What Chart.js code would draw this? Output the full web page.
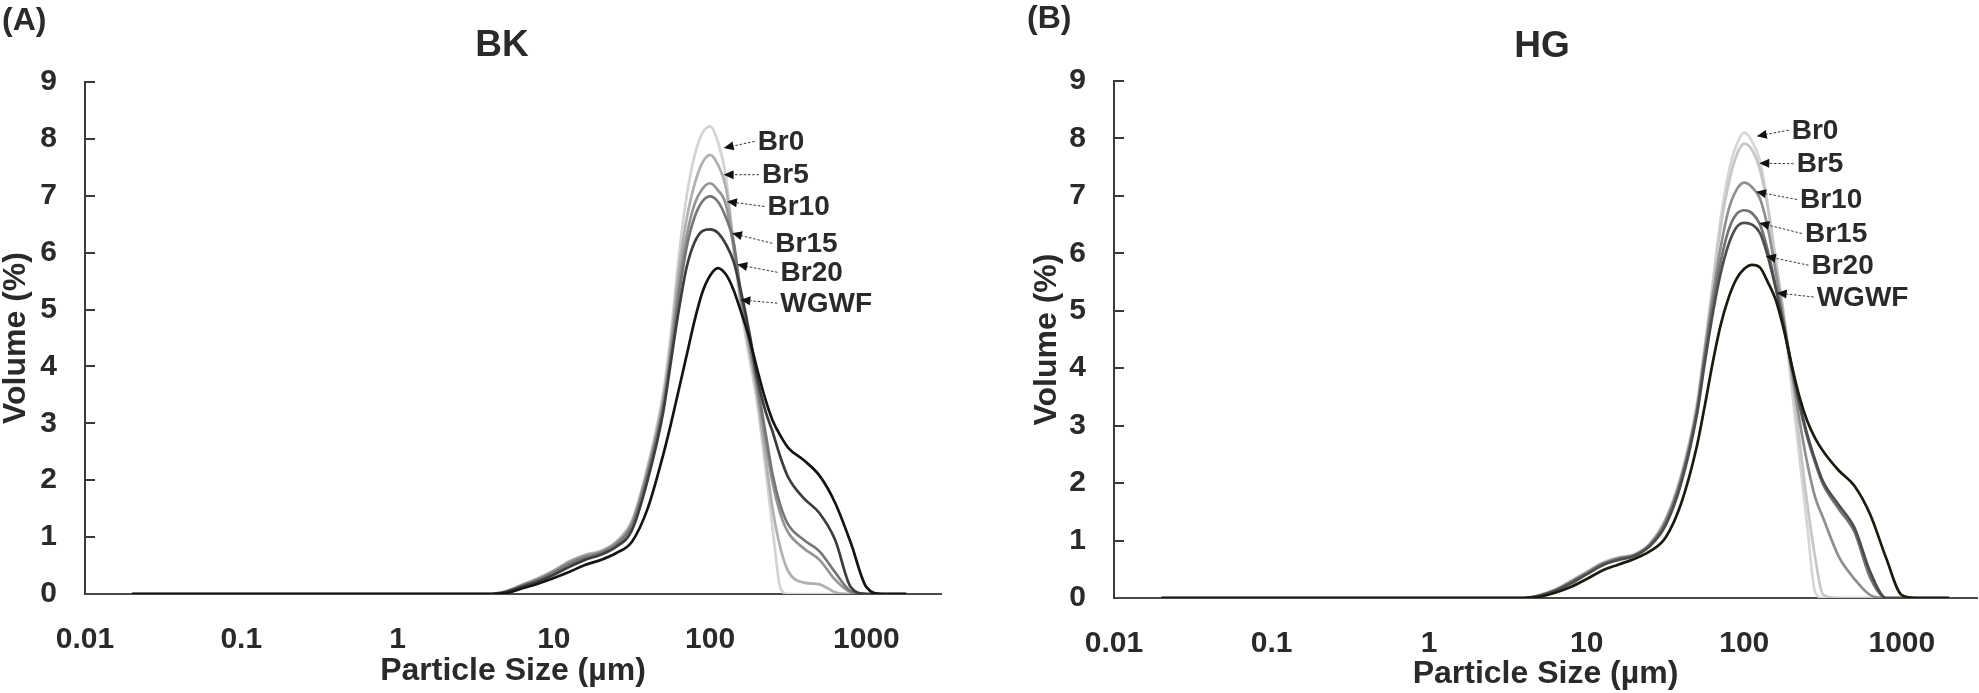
<!DOCTYPE html>
<html><head><meta charset="utf-8">
<script src="https://cdn.jsdelivr.net/npm/chart.js@4.4.1/dist/chart.umd.min.js"></script>
<style>
html,body{margin:0;padding:0;background:#fff;width:1979px;height:693px;overflow:hidden}
#cA{position:absolute;left:0;top:0}
#cB{position:absolute;left:990px;top:0}
</style></head><body>
<canvas id="cA" width="990" height="693"></canvas>
<canvas id="cB" width="989" height="693"></canvas>
<script>
// ---------- data (particle size in µm, volume in %) ----------
const sizesBK = [0.02,0.1,1,4,5,6.3,7.9,10,12.6,15.8,20,25.1,31.6,39.8,50.1,56.2,63.1,70.8,79.4,89.1,100,112,126,141,158,178,200,224,251,282,316,398,501,631,794,1000,1259,1585,1800];
const sizesHG = [0.02,0.1,1,4,5,6.3,7.9,10,12.6,15.8,20,25.1,31.6,39.8,50.1,56.2,63.1,70.8,79.4,89.1,100,112,126,141,158,178,200,224,251,282,316,398,501,631,794,1000,1259,1585,2000];
const seriesNames = ['Br0','Br5','Br10','Br15','Br20','WGWF'];

const bkBr0  = [0,0,0,0,0.05,0.17,0.28,0.42,0.58,0.69,0.76,0.93,1.3,2.25,3.55,4.6,5.95,7.0,7.7,8.1,8.22,7.95,7.35,6.1,5.0,4.15,3.35,2.3,1.15,0.1,0,0,0,0,0,0,0,0,0];
const bkBr5  = [0,0,0,0,0.05,0.16,0.27,0.41,0.57,0.68,0.75,0.91,1.27,2.2,3.45,4.45,5.7,6.6,7.2,7.58,7.72,7.55,7.15,6.2,5.1,4.3,3.5,2.5,1.5,0.8,0.4,0.2,0.17,0.03,0,0,0,0,0];
const bkBr10 = [0,0,0,0,0.05,0.16,0.26,0.40,0.56,0.67,0.74,0.90,1.24,2.15,3.35,4.3,5.45,6.3,6.85,7.12,7.22,7.1,6.85,6.1,5.15,4.4,3.6,2.75,1.95,1.4,1.08,0.8,0.6,0.25,0.03,0,0,0,0];
const bkBr15 = [0,0,0,0,0.04,0.15,0.25,0.38,0.53,0.64,0.72,0.87,1.2,2.1,3.3,4.2,5.25,6.1,6.62,6.9,6.99,6.9,6.62,6.2,5.25,4.45,3.7,2.9,2.1,1.55,1.22,0.95,0.75,0.38,0.05,0,0,0,0];
const bkBr20 = [0,0,0,0,0.04,0.13,0.22,0.34,0.48,0.6,0.69,0.83,1.12,2.0,3.2,4.1,5.0,5.75,6.18,6.38,6.41,6.35,6.15,5.85,5.3,4.6,3.8,3.25,2.85,2.4,2.05,1.68,1.42,0.95,0.12,0,0,0,0];
const bkWGWF = [0,0,0,0,0.02,0.1,0.18,0.28,0.39,0.51,0.60,0.72,0.92,1.5,2.45,3.0,3.6,4.2,4.8,5.3,5.6,5.73,5.62,5.35,4.95,4.5,3.95,3.45,3.05,2.78,2.57,2.35,2.08,1.6,0.9,0.12,0,0,0];

const hgBr0  = [0,0,0,0,0.05,0.15,0.3,0.46,0.62,0.71,0.76,0.95,1.38,2.15,3.4,4.4,5.5,6.6,7.4,7.88,8.1,7.95,7.6,6.85,5.9,4.9,3.65,2.45,1.25,0.1,0,0,0,0,0,0,0,0,0];
const hgBr5  = [0,0,0,0,0.05,0.15,0.29,0.45,0.61,0.7,0.75,0.94,1.36,2.12,3.35,4.35,5.4,6.45,7.2,7.7,7.91,7.8,7.45,6.8,5.9,4.95,3.85,2.75,1.65,0.7,0.06,0,0,0,0,0,0,0,0];
const hgBr10 = [0,0,0,0,0.04,0.14,0.28,0.44,0.6,0.69,0.75,0.93,1.34,2.1,3.3,4.3,5.25,6.1,6.75,7.1,7.23,7.15,6.95,6.45,5.7,4.85,3.95,3.1,2.35,1.75,1.4,0.72,0.33,0.05,0,0,0,0,0];
const hgBr15 = [0,0,0,0,0.04,0.13,0.27,0.43,0.59,0.68,0.74,0.92,1.3,2.05,3.25,4.2,5.1,5.85,6.4,6.68,6.75,6.7,6.5,6.05,5.45,4.75,4.0,3.35,2.8,2.35,1.98,1.55,1.15,0.35,0,0,0,0,0];
const hgBr20 = [0,0,0,0,0.04,0.12,0.25,0.41,0.57,0.66,0.73,0.9,1.26,2.0,3.2,4.1,4.95,5.65,6.15,6.45,6.53,6.5,6.35,5.95,5.4,4.75,4.05,3.4,2.85,2.4,2.03,1.62,1.22,0.45,0,0,0,0,0];
const hgWGWF = [0,0,0,0,0.02,0.09,0.19,0.33,0.48,0.58,0.68,0.81,1.05,1.65,2.65,3.35,4.1,4.75,5.22,5.55,5.73,5.8,5.75,5.5,5.2,4.68,4.05,3.5,3.08,2.78,2.56,2.22,1.95,1.45,0.7,0.05,0,0,0];

const xTicks = [0.01,0.1,1,10,100,1000];
const xTickLabels = ['0.01','0.1','1','10','100','1000'];
const yTicks = [0,1,2,3,4,5,6,7,8,9];

// ---------- styles & layout ----------
const colorsBK = ['#d3d3d3','#b0b0b0','#959595','#767676','#3d3d3d','#141414'];
const colorsHG = ['#d6d6d6','#c6c6c6','#8f8f8f','#737373','#4d4d4d','#1c190f'];
const FONT = "'Liberation Sans', Arial, Helvetica, sans-serif";
const TXT = '#2a2a2a';
Chart.defaults.font.family = FONT;

// arrow labels: tip in data coordinates, text offset in pixels
const labelsBK = [
  {tipX:122, tipY:7.84, dx:34, dy:-6.6},
  {tipX:122, tipY:7.37, dx:38.4, dy:0},
  {tipX:128, tipY:6.90, dx:40.6, dy:5},
  {tipX:138, tipY:6.34, dx:43.3, dy:10},
  {tipX:149, tipY:5.79, dx:43.3, dy:7.7},
  {tipX:156, tipY:5.17, dx:40, dy:3.3}
];
const labelsHG = [
  {tipX:120, tipY:8.04, dx:35, dy:-6},
  {tipX:124.5, tipY:7.57, dx:37.4, dy:0.6},
  {tipX:118.7, tipY:7.07, dx:44, dy:7.6},
  {tipX:124.5, tipY:6.53, dx:45.7, dy:10.6},
  {tipX:137, tipY:5.95, dx:45.7, dy:9},
  {tipX:160.6, tipY:5.31, dx:40, dy:4}
];

function makeChart(canvasId, sizes, series, colors, labels, cfg) {
  const datasets = series.map((vals, i) => ({
    label: seriesNames[i],
    data: sizes.map((s, j) => ({x: s, y: vals[j]})),
    borderColor: colors[i],
    borderWidth: 2.7,
    pointRadius: 0,
    fill: false,
    cubicInterpolationMode: 'monotone',
    order: series.length - 1 - i
  }));

  const annot = {
    id: 'annot',
    afterDatasetsDraw(chart) {
      const ctx = chart.ctx, xs = chart.scales.x, ys = chart.scales.y;
      ctx.save();
      labels.forEach((l, i) => {
        const tx = xs.getPixelForValue(l.tipX), ty = ys.getPixelForValue(l.tipY);
        const lx = tx + l.dx, ly = ty + l.dy;
        const sx = lx - 3, sy = ly;
        const ang = Math.atan2(ty - sy, tx - sx);
        const hl = 10, hw = 4.5;
        const bx = tx - hl * Math.cos(ang), by = ty - hl * Math.sin(ang);
        ctx.strokeStyle = '#333'; ctx.lineWidth = 1; ctx.setLineDash([2.5, 1.8]);
        ctx.beginPath(); ctx.moveTo(sx, sy); ctx.lineTo(bx, by); ctx.stroke();
        ctx.setLineDash([]);
        ctx.fillStyle = '#111';
        ctx.beginPath();
        ctx.moveTo(tx, ty);
        ctx.lineTo(bx + hw * Math.sin(ang), by - hw * Math.cos(ang));
        ctx.lineTo(bx - hw * Math.sin(ang), by + hw * Math.cos(ang));
        ctx.closePath(); ctx.fill();
        ctx.fillStyle = TXT;
        ctx.font = 'bold 28px ' + FONT;
        ctx.textAlign = 'left'; ctx.textBaseline = 'middle';
        ctx.fillText(seriesNames[i], lx, ly + 1);
      });
      ctx.restore();
    },
    afterDraw(chart) {
      const ctx = chart.ctx;
      ctx.save();
      ctx.fillStyle = TXT;
      ctx.textBaseline = 'middle';
      ctx.font = 'bold 32px ' + FONT;
      ctx.textAlign = 'left';
      ctx.fillText(cfg.letter, cfg.letterX, cfg.letterY);
      ctx.font = 'bold 37px ' + FONT;
      ctx.textAlign = 'center';
      ctx.fillText(cfg.title, cfg.titleX, cfg.titleY);
      ctx.restore();
    }
  };

  return new Chart(document.getElementById(canvasId), {
    type: 'line',
    data: {datasets},
    plugins: [annot],
    options: {
      responsive: false,
      animation: false,
      devicePixelRatio: 1,
      layout: {padding: cfg.padding},
      plugins: {legend: {display: false}, tooltip: {enabled: false}, title: {display: false}},
      scales: {
        x: {
          type: 'logarithmic', min: 0.01, max: 3000,
          afterBuildTicks(s) { s.ticks = xTicks.map(v => ({value: v, major: true})); },
          ticks: {autoSkip: false, maxRotation: 0, minRotation: 0, padding: 20, color: TXT,
                  font: {size: 30, weight: 'bold'},
                  callback: (v, idx) => xTickLabels[idx]},
          grid: {display: false},
          border: {display: true, color: '#4a4a4a', width: 2},
          title: {display: true, text: 'Particle Size (µm)', color: TXT,
                  font: {size: 32, weight: 'bold', lineHeight: 1.2}, padding: {top: 0, bottom: cfg.xTitlePad}},
          afterFit(s) { s.height = cfg.xAxisH; }
        },
        y: {
          type: 'linear', min: 0, max: 9,
          afterBuildTicks(s) { s.ticks = yTicks.map(v => ({value: v})); },
          ticks: {padding: 38, color: TXT, font: {size: 30, weight: 'bold'}},
          grid: {display: true, drawOnChartArea: false, drawTicks: true, tickLength: -10, color: '#3a3a3a', lineWidth: 2},
          border: {display: true, color: '#3a3a3a', width: 2},
          title: {display: true, text: 'Volume (%)', color: TXT,
                  font: {size: 32, weight: 'bold', lineHeight: 1}, padding: 0},
          afterFit(s) { s.width = cfg.yAxisW; }
        }
      }
    }
  });
}

makeChart('cA', sizesBK, [bkBr0, bkBr5, bkBr10, bkBr15, bkBr20, bkWGWF], colorsBK, labelsBK,
  {letter: '(A)', letterX: 2, letterY: 21, title: 'BK', titleX: 502, titleY: 46,
   padding: {left: 0, right: 49, top: 82, bottom: 0}, yAxisW: 85, xAxisH: 99, xTitlePad: 3});
makeChart('cB', sizesHG, [hgBr0, hgBr5, hgBr10, hgBr15, hgBr20, hgWGWF], colorsHG, labelsHG,
  {letter: '(B)', letterX: 37, letterY: 19, title: 'HG', titleX: 552, titleY: 47,
   padding: {left: 41, right: 2, top: 81, bottom: 0}, yAxisW: 83, xAxisH: 95, xTitlePad: 0});
</script>
</body></html>
